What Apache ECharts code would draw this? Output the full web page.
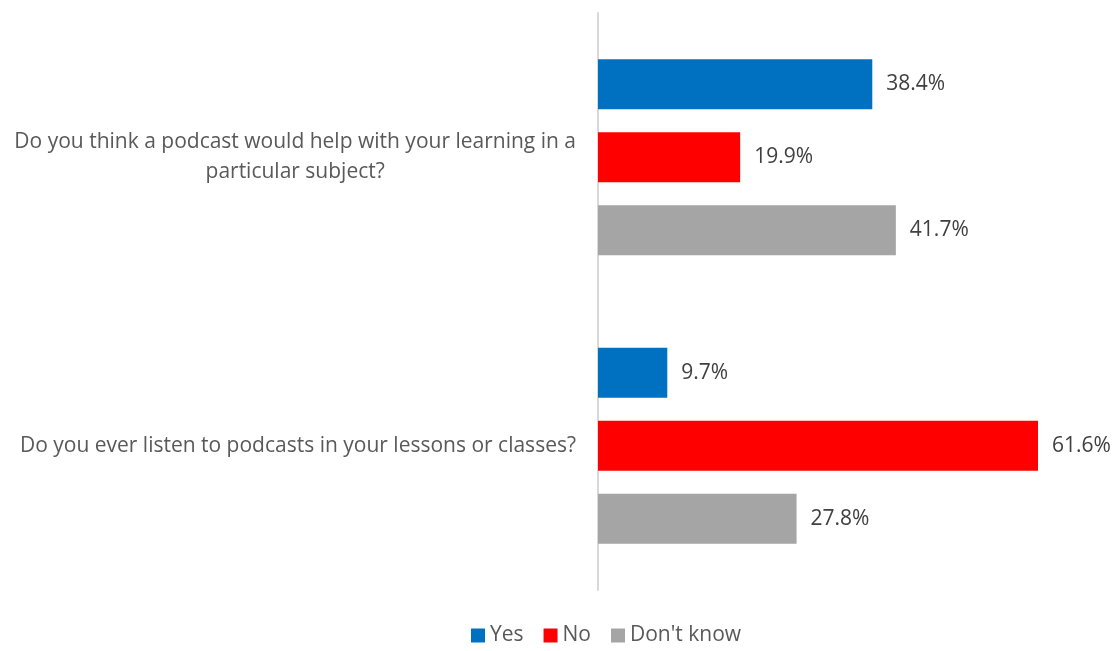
<!DOCTYPE html>
<html>
<head>
<meta charset="utf-8">
<script src="https://cdn.jsdelivr.net/npm/echarts@6/dist/echarts.min.js"></script>
<style>
    html, body { margin: 0; padding: 0; background: #ffffff; }
    #chartbox { width: 1119px; height: 651px; }
</style>
</head>
<body>
<div id="chartbox"></div>
<script>
// questions (top to bottom)
const questions = [
    "Do you think a podcast would help with your learning in a\nparticular subject?",
    "Do you ever listen to podcasts in your lessons or classes?"
];
const seriesNames = ["Yes", "No", "Don't know"];
const yesValues = [38.4, 9.7];
const noValues = [19.9, 61.6];
const dontKnowValues = [41.7, 27.8];
const colors = ["#0070C0", "#FF0000", "#A5A5A5"];

const fontName = "'Open Sans', 'Noto Sans', sans-serif";

let chartDom = document.getElementById("chartbox");
let myChart = echarts.init(chartDom);

const makeSeries = (name, values, color) => {
    return {
        name: name,
        type: "bar",
        data: values,
        barWidth: 50,
        barGap: "46%",
        itemStyle: { color: color },
        label: {
            show: true,
            position: "right",
            distance: 14,
            color: "#404040",
            fontSize: 21,
            fontFamily: fontName,
            formatter: (p) => p.value.toFixed(1) + "%",
        },
        emphasis: { disabled: true },
    };
};

let option = {
    animation: false,
    legend: {
        data: seriesNames,
        bottom: 0,
        left: 466,
        itemWidth: 14,
        itemHeight: 14,
        itemGap: 20,
        icon: "rect",
        textStyle: {
            color: "#595959",
            fontSize: 21,
            fontFamily: fontName,
        },
    },
    grid: {
        left: 598,
        right: 21,
        top: 13,
        bottom: 61,
        containLabel: false,
    },
    xAxis: {
        type: "value",
        min: 0,
        max: 70,
        show: false,
        splitLine: { show: false },
    },
    yAxis: {
        type: "category",
        inverse: true,
        data: questions,
        axisTick: { show: false },
        axisLine: {
            show: true,
            lineStyle: { color: "#D9D9D9", width: 2 },
        },
        axisLabel: {
            interval: 0,
            margin: 22,
            align: "right",
            formatter: (v) => v.split("\n").map((s) => "{c|" + s + "}").join("\n"),
            rich: {
                c: {
                    align: "center",
                    color: "#595959",
                    fontSize: 21,
                    lineHeight: 30,
                    fontFamily: fontName,
                },
            },
        },
    },
    series: [
        makeSeries(seriesNames[0], yesValues, colors[0]),
        makeSeries(seriesNames[1], noValues, colors[1]),
        makeSeries(seriesNames[2], dontKnowValues, colors[2]),
    ],
};
option && myChart.setOption(option);
</script>
</body>
</html>
